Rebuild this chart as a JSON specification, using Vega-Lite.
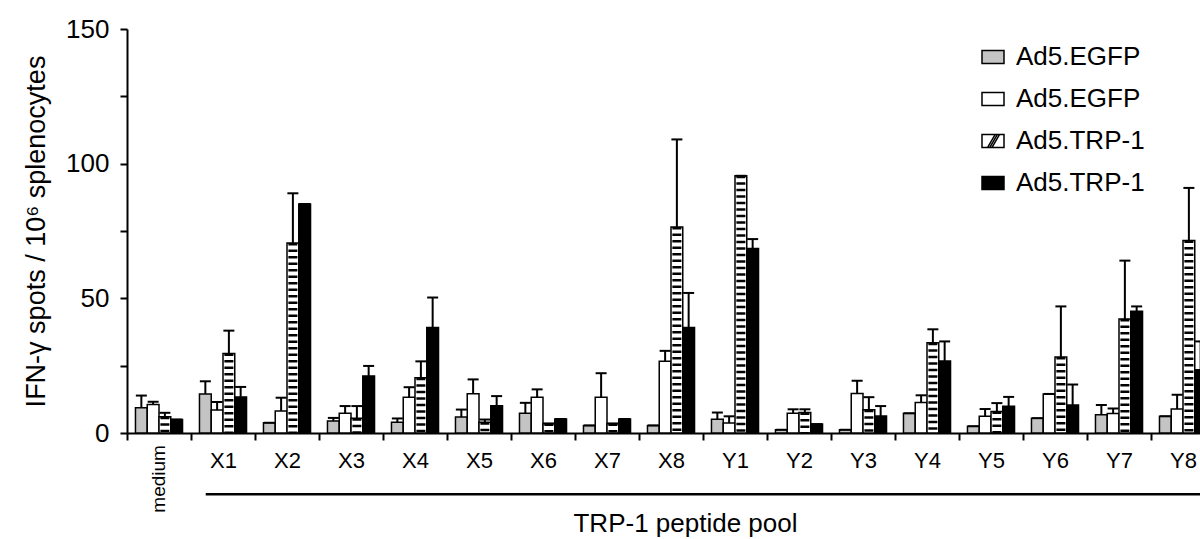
{
  "$schema": "https://vega.github.io/schema/vega-lite/v6.json",
  "autosize": {"type": "none"},
  "width": 1073,
  "height": 404,
  "padding": {"left": 127, "top": 29, "right": 0, "bottom": 106},
  "background": "white",
  "config": {
    "view": {"stroke": null},
    "font": "Liberation Sans",
    "axis": {"domainColor": "black", "domainWidth": 2, "tickColor": "black", "tickWidth": 2, "labelColor": "black", "titleColor": "black", "labelFont": "Liberation Sans", "titleFont": "Liberation Sans", "grid": false}
  },
  "data": {"values": [
    {"g": "medium", "s": "a", "v": 9.4, "e": 13.9}, {"g": "medium", "s": "b", "v": 10.6, "e": 11.6}, {"g": "medium", "s": "c", "v": 6, "e": 7.5}, {"g": "medium", "s": "d", "v": 5, "e": 5},
    {"g": "X1", "s": "a", "v": 14.5, "e": 19.2}, {"g": "X1", "s": "b", "v": 8.5, "e": 11.5}, {"g": "X1", "s": "c", "v": 29.5, "e": 38}, {"g": "X1", "s": "d", "v": 13.4, "e": 17.1},
    {"g": "X2", "s": "a", "v": 3.8, "e": 3.8}, {"g": "X2", "s": "b", "v": 8.2, "e": 13.1}, {"g": "X2", "s": "c", "v": 70.5, "e": 89}, {"g": "X2", "s": "d", "v": 85, "e": 85},
    {"g": "X3", "s": "a", "v": 4.5, "e": 5.6}, {"g": "X3", "s": "b", "v": 7.3, "e": 10}, {"g": "X3", "s": "c", "v": 5.5, "e": 10}, {"g": "X3", "s": "d", "v": 21.2, "e": 24.9},
    {"g": "X4", "s": "a", "v": 4, "e": 5.4}, {"g": "X4", "s": "b", "v": 13.3, "e": 17}, {"g": "X4", "s": "c", "v": 20.5, "e": 26.6}, {"g": "X4", "s": "d", "v": 39.2, "e": 50.3},
    {"g": "X5", "s": "a", "v": 5.9, "e": 8.7}, {"g": "X5", "s": "b", "v": 14.6, "e": 19.9}, {"g": "X5", "s": "c", "v": 4, "e": 5}, {"g": "X5", "s": "d", "v": 10.1, "e": 13.7},
    {"g": "X6", "s": "a", "v": 7.3, "e": 11.2}, {"g": "X6", "s": "b", "v": 13.3, "e": 16.2}, {"g": "X6", "s": "c", "v": 3.5, "e": 3.5}, {"g": "X6", "s": "d", "v": 5.2, "e": 5.2},
    {"g": "X7", "s": "a", "v": 2.8, "e": 2.8}, {"g": "X7", "s": "b", "v": 13.3, "e": 22.2}, {"g": "X7", "s": "c", "v": 3.5, "e": 3.5}, {"g": "X7", "s": "d", "v": 5.2, "e": 5.2},
    {"g": "X8", "s": "a", "v": 2.8, "e": 2.8}, {"g": "X8", "s": "b", "v": 26.6, "e": 30.5}, {"g": "X8", "s": "c", "v": 76.5, "e": 109}, {"g": "X8", "s": "d", "v": 39.2, "e": 52},
    {"g": "Y1", "s": "a", "v": 5.1, "e": 7.6}, {"g": "Y1", "s": "b", "v": 3.7, "e": 6.2}, {"g": "Y1", "s": "c", "v": 95.5, "e": 95.5}, {"g": "Y1", "s": "d", "v": 68.5, "e": 72},
    {"g": "Y2", "s": "a", "v": 1.2, "e": 1.2}, {"g": "Y2", "s": "b", "v": 7.3, "e": 8.8}, {"g": "Y2", "s": "c", "v": 7.6, "e": 8.8}, {"g": "Y2", "s": "d", "v": 3.3, "e": 3.3},
    {"g": "Y3", "s": "a", "v": 1.2, "e": 1.2}, {"g": "Y3", "s": "b", "v": 14.7, "e": 19.4}, {"g": "Y3", "s": "c", "v": 8.6, "e": 13.3}, {"g": "Y3", "s": "d", "v": 6.3, "e": 10},
    {"g": "Y4", "s": "a", "v": 7.3, "e": 7.3}, {"g": "Y4", "s": "b", "v": 11.3, "e": 14}, {"g": "Y4", "s": "c", "v": 33.5, "e": 38.5}, {"g": "Y4", "s": "d", "v": 26.7, "e": 34},
    {"g": "Y5", "s": "a", "v": 2.5, "e": 2.5}, {"g": "Y5", "s": "b", "v": 6.2, "e": 8.9}, {"g": "Y5", "s": "c", "v": 8, "e": 11.1}, {"g": "Y5", "s": "d", "v": 9.9, "e": 13.4},
    {"g": "Y6", "s": "a", "v": 5.5, "e": 5.5}, {"g": "Y6", "s": "b", "v": 14.5, "e": 14.5}, {"g": "Y6", "s": "c", "v": 28.2, "e": 47}, {"g": "Y6", "s": "d", "v": 10.4, "e": 18},
    {"g": "Y7", "s": "a", "v": 6.8, "e": 10.4}, {"g": "Y7", "s": "b", "v": 7.2, "e": 9.1}, {"g": "Y7", "s": "c", "v": 42.3, "e": 64}, {"g": "Y7", "s": "d", "v": 45.2, "e": 47},
    {"g": "Y8", "s": "a", "v": 6.2, "e": 6.2}, {"g": "Y8", "s": "b", "v": 8.9, "e": 14.2}, {"g": "Y8", "s": "c", "v": 71.5, "e": 91}, {"g": "Y8", "s": "d", "v": 23.5, "e": 34}
  ]},
  "layer": [
    {
      "mark": {"type": "bar", "stroke": "black", "strokeWidth": 1.5},
      "encoding": {
        "x": {"field": "g", "type": "nominal", "sort": null,
          "scale": {"domain": ["medium","X1","X2","X3","X4","X5","X6","X7","X8","Y1","Y2","Y3","Y4","Y5","Y6","Y7","Y8"], "range": [0, 1088], "paddingInner": 0, "paddingOuter": 0},
          "axis": {"title": "TRP-1 peptide pool", "tickBand": "extent", "labelAngle": 0, "labelExpr": "datum.value === 'medium' ? '' : datum.label", "labelFontSize": 22, "labelPadding": 10, "tickSize": 7, "titleFontSize": 26, "titleFontWeight": "normal", "titleX": 558, "titleY": 98, "titleBaseline": "alphabetic", "titleAnchor": "start", "titleAlign": "center"}},
        "xOffset": {"field": "s", "type": "nominal", "scale": {"paddingInner": 0, "paddingOuter": 0.72}},
        "y": {"field": "v", "type": "quantitative", "scale": {"domain": [0, 150], "nice": false},
          "axis": {"values": [0, 25, 50, 75, 100, 125, 150], "labelExpr": "datum.value % 50 === 0 ? datum.label : ''", "title": "IFN-γ spots / 10⁶ splenocytes", "tickSize": 7, "labelPadding": 11, "labelFontSize": 26, "titleFontSize": 27, "titleFontWeight": "normal", "titlePadding": 15}},
        "fill": {"field": "s", "type": "nominal",
          "scale": {"domain": ["a", "b", "c", "d"], "range": ["#c4c4c4", "#ffffff", "#ffffff", "#000000"]},
          "legend": {"orient": "none", "legendX": 853, "legendY": 15, "title": null, "padding": 0,
            "labelExpr": "datum.value === 'a' || datum.value === 'b' ? 'Ad5.EGFP' : 'Ad5.TRP-1'",
            "labelFontSize": 26, "labelFont": "Liberation Sans", "labelColor": "black", "labelOffset": 10,
            "symbolSize": 484, "symbolStrokeWidth": 1.5, "symbolStrokeColor": "black", "rowPadding": 16,
            "encode": {"symbols": {"update": {
              "shape": {"signal": "datum.value === 'c' ? 'M-1,-0.6H1V0.6H-1Z M-0.5,0.6L0.2,-0.6 M-0.3,0.6L0.4,-0.6 M-0.1,0.6L0.6,-0.6' : 'M-1,-0.6H1V0.6H-1Z'"},
              "stroke": {"value": "black"}, "strokeWidth": {"value": 1.5}}}}}}
      }
    },
    {
      "transform": [{"filter": "datum.s === 'c'"}],
      "mark": {"type": "rule", "stroke": "black", "strokeWidth": 9, "strokeDash": [2.5, 4]},
      "encoding": {
        "x": {"field": "g", "type": "nominal", "sort": null},
        "xOffset": {"field": "s", "type": "nominal"},
        "y": {"field": "v", "type": "quantitative"},
        "y2": {"datum": 0}
      }
    },
    {
      "mark": {"type": "rule", "stroke": "black", "strokeWidth": 2},
      "encoding": {
        "x": {"field": "g", "type": "nominal", "sort": null},
        "xOffset": {"field": "s", "type": "nominal"},
        "y": {"field": "v", "type": "quantitative"},
        "y2": {"field": "e"}
      }
    },
    {
      "mark": {"type": "tick", "orient": "horizontal", "color": "black", "size": 11, "thickness": 2, "opacity": 1},
      "encoding": {
        "x": {"field": "g", "type": "nominal", "sort": null},
        "xOffset": {"field": "s", "type": "nominal"},
        "y": {"field": "e", "type": "quantitative"}
      }
    },
    {
      "data": {"values": [{"g": "medium", "t": "medium"}]},
      "mark": {"type": "text", "angle": 270, "align": "right", "baseline": "middle", "fontSize": 19, "font": "Liberation Sans", "color": "black"},
      "encoding": {
        "x": {"field": "g", "type": "nominal"},
        "y": {"datum": -4.5, "type": "quantitative"},
        "text": {"field": "t"}
      }
    },
    {
      "data": {"values": [{"from": "X1", "to": "Y8"}]},
      "mark": {"type": "rule", "stroke": "black", "strokeWidth": 2.5},
      "encoding": {
        "x": {"field": "from", "type": "nominal", "bandPosition": 0.23},
        "x2": {"field": "to", "bandPosition": 1},
        "y": {"datum": -22.7, "type": "quantitative"}
      }
    }
  ]
}
